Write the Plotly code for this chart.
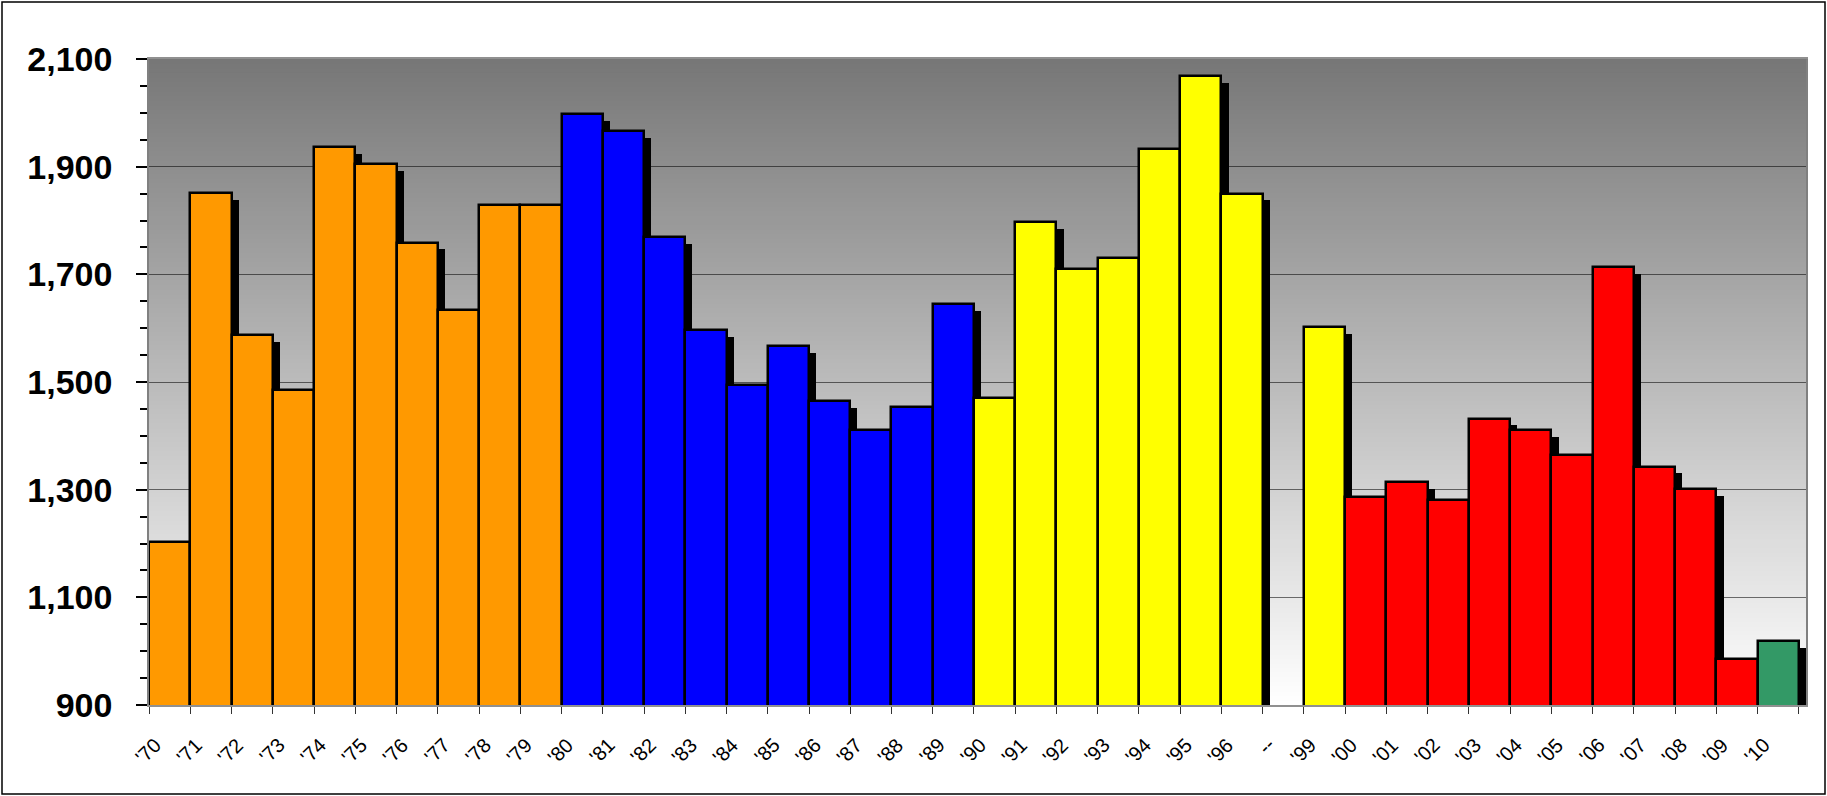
import plotly.graph_objects as go

# ---------------- data ----------------
years = ["'70", "'71", "'72", "'73", "'74", "'75", "'76", "'77", "'78", "'79",
         "'80", "'81", "'82", "'83", "'84", "'85", "'86", "'87", "'88", "'89",
         "'90", "'91", "'92", "'93", "'94", "'95", "'96", "--", "'99",
         "'00", "'01", "'02", "'03", "'04", "'05", "'06", "'07", "'08", "'09", "'10"]

values = [1202, 1851, 1587, 1486, 1936, 1905, 1759, 1634, 1828, 1828,
          1998, 1966, 1769, 1596, 1494, 1567, 1464, 1410, 1453, 1645,
          1470, 1797, 1710, 1731, 1933, 2068, 1850, None, 1602,
          1287, 1314, 1280, 1432, 1411, 1365, 1713, 1343, 1301, 985, 1018]

groups = ["70s"] * 10 + ["80s"] * 10 + ["90s"] * 9 + ["00s"] * 10 + ["10s"]

# ---------------- style ----------------
group_colors = {"70s": "#FF9900", "80s": "#0000FF", "90s": "#FFFF00",
                "00s": "#FF0000", "10s": "#339966"}
bar_colors = [group_colors[g] for g in groups]

W, H = 1827, 796
ML, MR, MT, MB = 149, 21, 59, 91
shadow_dx = 0.17      # in category units (~7 px)
shadow_dy = 12.5      # in value units (~7 px)
y_min, y_max = 900, 2100

pos = list(range(len(years)))
shadow_vals = [None if v is None else v - shadow_dy for v in values]

fig = go.Figure()

# shadows
fig.add_trace(go.Bar(
    x=pos, y=shadow_vals, width=1, offset=-0.5 + shadow_dx,
    marker=dict(color="black", line=dict(width=0)),
    hoverinfo="skip", showlegend=False,
))
# main bars
fig.add_trace(go.Bar(
    x=pos, y=values, width=1, offset=-0.5,
    marker=dict(color=bar_colors, line=dict(color="black", width=2.5)),
    customdata=years, hovertemplate="%{customdata}: %{y}<extra></extra>",
    showlegend=False,
))

# gradient background (dark gray at top -> white at bottom)
shapes = []
N = 140
for i in range(N):
    f0 = i / N
    f1 = (i + 1) / N
    fm = (f0 + f1) / 2
    g = int(round(255 - 136 * fm))
    shapes.append(dict(type="rect", xref="paper", yref="paper",
                       x0=0, x1=1, y0=f0, y1=f1 + 0.002,
                       fillcolor=f"rgb({g},{g},{g})", line=dict(width=0),
                       layer="below"))

# outer border of the whole picture
pw = W - ML - MR
ph = H - MT - MB
shapes.append(dict(type="rect", xref="paper", yref="paper",
                   x0=-(ML - 2) / pw, x1=1 + (MR - 2) / pw,
                   y0=-(MB - 2) / ph, y1=1 + (MT - 2) / ph,
                   line=dict(color="black", width=1.5), fillcolor="rgba(0,0,0,0)",
                   layer="above"))

# rotated category labels
annotations = [dict(x=p, xref="x", y=0, yref="paper", text=lab,
                    textangle=-45, showarrow=False,
                    xanchor="right", yanchor="top", xshift=-2, yshift=-26,
                    font=dict(size=20, family="Liberation Sans, Arial, sans-serif",
                              color="black"))
               for p, lab in zip(pos, years)]

fig.update_layout(
    width=W, height=H,
    margin=dict(l=ML, r=MR, t=MT, b=MB, pad=0),
    paper_bgcolor="white",
    plot_bgcolor="rgba(0,0,0,0)",
    barmode="overlay",
    bargap=0,
    shapes=shapes,
    annotations=annotations,
    font=dict(family="Liberation Sans, Arial, sans-serif", color="black"),
)

fig.update_xaxes(
    type="linear",
    range=[-0.5, len(years) - 0.5 + shadow_dx],
    tickmode="array", tickvals=pos, ticktext=years,
    showticklabels=False,
    showgrid=False, zeroline=False,
    showline=True, linecolor="#909090", linewidth=1.5, mirror=True,
    ticks="", ticklen=0,
    minor=dict(tickmode="linear", tick0=-0.5, dtick=1, ticks="outside",
               ticklen=7, tickcolor="#333333", tickwidth=1.2, showgrid=False),
)

fig.update_yaxes(
    range=[y_min, y_max],
    tick0=900, dtick=200,
    tickformat=",d",
    showgrid=True, gridcolor="rgba(0,0,0,0.55)", gridwidth=1,
    zeroline=False,
    showline=True, linecolor="#808080", linewidth=1.5, mirror=True,
    ticks="outside", ticklen=11, tickcolor="black", tickwidth=1.5,
    minor=dict(dtick=50, ticks="outside", ticklen=7, tickcolor="black",
               tickwidth=1.5, showgrid=False),
    tickfont=dict(size=34, family="Liberation Sans, Arial, sans-serif", weight="bold"),
    ticklabelstandoff=17,
)

fig.write_html("out.html", config={"displayModeBar": False},
               post_script="document.body.style.margin='0';document.body.style.overflow='hidden';")
